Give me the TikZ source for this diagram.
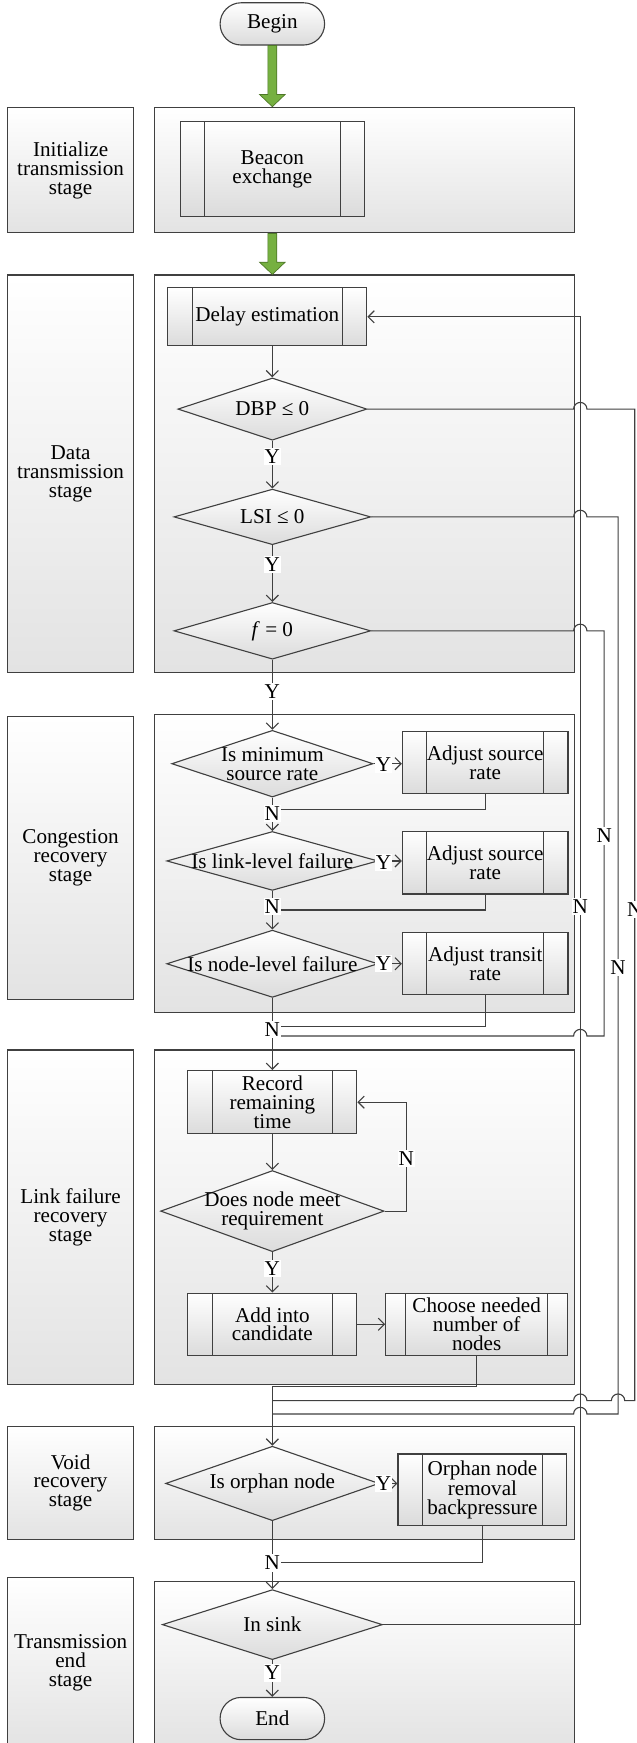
\documentclass[tikz,border=0pt]{standalone}
\usepackage{fontspec}
\setmainfont{Liberation Serif}
\usetikzlibrary{shapes.geometric,arrows.meta,calc}
\definecolor{lnc}{RGB}{64,64,64}
\definecolor{grn}{RGB}{118,176,65}
\definecolor{grnd}{RGB}{78,118,40}
\begin{document}
\begin{tikzpicture}[x=1pt,y=-1pt,
  every node/.style={font=\fontsize{19}{17}\selectfont, text=black},
  ln/.style={draw=lnc, line width=1pt},
  arr/.style={ln, -{Straight Barb[length=5.5pt,width=11pt]}},
  stagebox/.style={rectangle, draw=lnc, line width=1pt, top color=white, bottom color=black!11, inner sep=0pt, align=center},
  pboff/.store in=\pboff, pboff=22pt,
  pbox/.style={rectangle, draw=lnc, line width=1pt, top color=white, bottom color=black!14, inner sep=0pt, align=center,
    path picture={
      \draw[lnc, line width=1pt] ([xshift=\pboff]path picture bounding box.north west) -- ([xshift=\pboff]path picture bounding box.south west);
      \draw[lnc, line width=1pt] ([xshift=-\pboff]path picture bounding box.north east) -- ([xshift=-\pboff]path picture bounding box.south east);}},
  dia/.style={diamond, draw=lnc, line width=1pt, top color=white, bottom color=black!14, inner sep=0pt},
  term/.style={rectangle, rounded corners=18.9pt, draw=lnc, line width=1pt, top color=white, bottom color=black!14, inner sep=0pt},
  lab/.style={fill=white, inner xsep=1pt, inner ysep=1.5pt},
  garrow/.style={fill=grn, draw=grnd, line width=0.6pt}
]
\useasboundingbox (0,0) rectangle (573,1568);
\clip (0,0) rectangle (573,1568);
\fill[white] (0,0) rectangle (573,1568);

% stage boxes
\node[stagebox, minimum width=113pt, minimum height=113pt] (s1l) at (63.5,153) {Initialize\\transmission\\stage};
\node[stagebox, minimum width=378pt, minimum height=113pt] (s1c) at (328,153) {};
\node[stagebox, minimum width=113pt, minimum height=357.6pt] (s2l) at (63.5,426.2) {Data\\transmission\\stage};
\node[stagebox, minimum width=378pt, minimum height=357.6pt] (s2c) at (328,426.2) {};
\node[stagebox, minimum width=113pt, minimum height=254pt] (s3l) at (63.5,771.8) {Congestion\\recovery\\stage};
\node[stagebox, minimum width=378pt, minimum height=268pt] (s3c) at (328,776.6) {};
\node[stagebox, minimum width=113pt, minimum height=301.3pt] (s4l) at (63.5,1095.2) {Link failure\\recovery\\stage};
\node[stagebox, minimum width=378pt, minimum height=301.3pt] (s4c) at (328,1095.2) {};
\node[stagebox, minimum width=113pt, minimum height=102pt] (s5l) at (63.5,1334) {Void\\recovery\\stage};
\node[stagebox, minimum width=378pt, minimum height=102pt] (s5c) at (328,1334) {};
\node[stagebox, minimum width=113pt, minimum height=154pt] (s6l) at (63.5,1496) {Transmission\\end\\stage};
\node[stagebox, minimum width=378pt, minimum height=150pt] (s6c) at (328,1498) {};

% flow nodes
\node[term, minimum width=94pt, minimum height=38pt] (begin) at (245,21.5) {Begin};
\node[pbox, minimum width=166pt, minimum height=85pt] (beacon) at (245,152) {Beacon\\exchange};
\node[pbox, minimum width=179pt, minimum height=52pt] (delay) at (240.5,285) {Delay estimation};
\node[dia, minimum width=170pt, minimum height=56pt, label={center:DBP ≤ 0}] (dbp) at (245,368) {};
\node[dia, minimum width=177pt, minimum height=50pt, label={center:LSI ≤ 0}] (lsi) at (245,465) {};
\node[dia, minimum width=177pt, minimum height=51pt, label={center:\textit{f} = 0}] (fz) at (245,567.5) {};
\node[dia, minimum width=181pt, minimum height=60pt, label={[align=center]center:{Is minimum\\source rate}}] (minr) at (245,687) {};
\node[pbox, minimum width=149pt, minimum height=56pt] (adj1) at (436.5,686) {Adjust source\\rate};
\node[dia, minimum width=190pt, minimum height=53pt, label={center:Is link-level failure}] (link) at (245,774.5) {};
\node[pbox, minimum width=149pt, minimum height=56.5pt] (adj2) at (436.5,776) {Adjust source\\rate};
\node[dia, minimum width=190pt, minimum height=60.5pt, label={center:Is node-level failure}] (nodef) at (245,867) {};
\node[pbox, minimum width=149pt, minimum height=56pt] (adj3) at (436.5,866.7) {Adjust transit\\rate};
\node[pbox, minimum width=152pt, minimum height=57pt] (record) at (245,991.5) {Record\\remaining\\time};
\node[dia, minimum width=201pt, minimum height=73pt, label={[align=center]center:{Does node meet\\requirement}}] (meet) at (245,1089.5) {};
\node[pbox, minimum width=152pt, minimum height=56pt] (add) at (245,1191.3) {Add into\\candidate};
\node[pbox, pboff=18pt, minimum width=163.6pt, minimum height=56pt] (choose) at (428.8,1191.3) {Choose needed\\number of\\nodes};
\node[dia, minimum width=192pt, minimum height=67pt, label={center:Is orphan node}] (orph) at (245,1334.5) {};
\node[pbox, minimum width=152pt, minimum height=64pt] (orbox) at (434,1340) {Orphan node\\removal\\backpressure};
\node[dia, minimum width=198pt, minimum height=63pt, label={center:In sink}] (sink) at (245,1461.5) {};
\node[term, minimum width=94pt, minimum height=38pt] (endn) at (245,1546) {End};

% green arrows
\coordinate (g1a) at (begin.south);
\coordinate (g1b) at (begin.south |- s1c.north);
\draw[garrow] ($(g1a)+(-4,0)$) -- ($(g1b)+(-4,-11)$) -- ($(g1b)+(-11.5,-11)$) -- (g1b) -- ($(g1b)+(11.5,-11)$) -- ($(g1b)+(4,-11)$) -- ($(g1a)+(4,0)$) -- cycle;
\coordinate (g2a) at (begin.south |- s1c.south);
\coordinate (g2b) at (begin.south |- s2c.north);
\draw[garrow] ($(g2a)+(-4,0)$) -- ($(g2b)+(-4,-11)$) -- ($(g2b)+(-11.5,-11)$) -- (g2b) -- ($(g2b)+(11.5,-11)$) -- ($(g2b)+(4,-11)$) -- ($(g2a)+(4,0)$) -- cycle;

% junction coordinates
\coordinate (j1) at (245,728.6);
\coordinate (j2) at (245,818.6);
\coordinate (j3) at (245,923.5);
\coordinate (j4) at (245,932);
\coordinate (j5) at (245,1247.4);
\coordinate (j6) at (245,1260);
\coordinate (j7) at (245,1272);
\coordinate (j8) at (245,1406);
\coordinate (nl) at (365.5,1040);

% connectors
\draw[arr] (delay.south -| dbp.north) -- (dbp.north);
\draw[arr] (dbp.south) -- (lsi.north);
\draw[arr] (lsi.south) -- (fz.north);
\draw[arr] (fz.south) -- (minr.north);
\draw[arr] (minr.east) -- (minr.east -| adj1.west);
\draw[ln] (adj1.south) |- (j1);
\draw[arr] (minr.south) -- (link.north);
\draw[arr] (link.east) -- (link.east -| adj2.west);
\draw[ln] (adj2.south) |- (j2);
\draw[arr] (link.south) -- (nodef.north);
\draw[arr] (nodef.east) -- (nodef.east -| adj3.west);
\draw[ln] (adj3.south) |- (j3);
\draw[arr] (nodef.south) -- (record.north);
\draw[ln] (fz.east) -- (516,567.5) arc[start angle=180,end angle=0,radius=6pt] -- (543.5,567.5) -- (543.5,932) -- (528,932) arc[start angle=0,end angle=180,radius=6pt] -- (j4);
\draw[arr] (record.south) -- (meet.north);
\draw[arr] (meet.east) -| (nl) |- (record.east);
\draw[arr] (meet.south) -- (add.north);
\draw[arr] (add.east) -- (choose.west);
\draw[arr] (choose.south) |- (j5) -- (orph.north);
\draw[ln] (dbp.east) -- (516,368) arc[start angle=180,end angle=0,radius=6pt] -- (571,368) -- (571,1260) -- (562,1260) arc[start angle=0,end angle=180,radius=6pt] -- (528,1260) arc[start angle=0,end angle=180,radius=6pt] -- (j6);
\draw[ln] (lsi.east) -- (516,465) arc[start angle=180,end angle=0,radius=6pt] -- (556,465) -- (556,1272) -- (528,1272) arc[start angle=0,end angle=180,radius=6pt] -- (j7);
\draw[arr] (orph.east) -- (orph.east -| orbox.west);
\draw[ln] (orbox.south) |- (j8);
\draw[arr] (orph.south) -- (sink.north);
\draw[arr] (sink.east) -- (522,1461.5) -- (522,285) -- (delay.east);
\draw[arr] (sink.south) -- (endn.north);

% Y / N labels
\node[lab] (ya) at (245,411) {Y};
\node[lab] (yb) at (245,508) {Y};
\node[lab] (yc) at (245,622) {Y};
\node[lab] (yd) at (345,688) {Y};
\node[lab] (ye) at (345,776) {Y};
\node[lab] (yf) at (345,867) {Y};
\node[lab] (na) at (245,731.6) {N};
\node[lab] (nb) at (245,815.6) {N};
\node[lab] (nc) at (245,926.5) {N};
\node[lab] (nd) at (522,815.6) {N};
\node[lab] (ne) at (543.5,752) {N};
\node[lab] (nf) at (556,870) {N};
\node[lab] (ng) at (571,818) {N};
\node[lab] (nh) at (365.5,1042) {N};
\node[lab] (yg) at (245,1141) {Y};
\node[lab] (yh) at (345,1334.5) {Y};
\node[lab] (ni) at (245,1406) {N};
\node[lab] (yi) at (245,1505) {Y};
\end{tikzpicture}
\end{document}
